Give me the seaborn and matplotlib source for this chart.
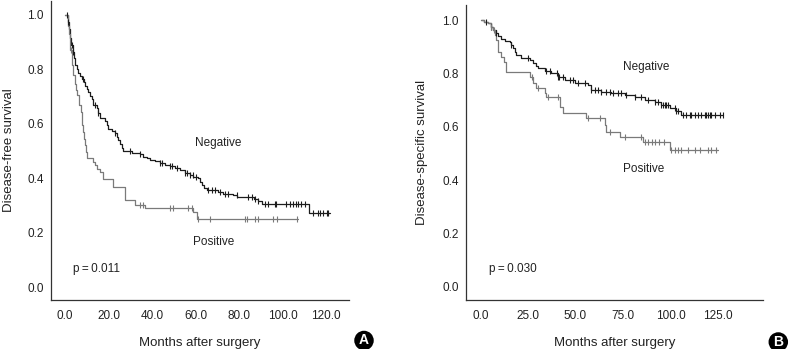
import numpy as np
import pandas as pd
import matplotlib
matplotlib.use("Agg")
import matplotlib.pyplot as plt
from matplotlib.patches import Ellipse
import seaborn as sns

# ---------------- data ----------------
# Panel A: disease-free survival
a_neg_t = [0, 1.2, 1.8, 2.3, 2.9, 3.5, 4.0, 4.6, 5.3, 6.1, 7.0, 7.7, 8.5, 9.2, 10.0, 10.7,
           11.5, 12.3, 13.0, 14.6, 15.3, 16.1, 18.4, 19.2, 19.9, 21.5, 23.0, 23.8, 24.5,
           25.3, 26.1, 26.8, 30.7, 34.5, 36.0, 37.5, 39.1, 41.5, 43.7, 46.0, 48.3, 50.5,
           52.9, 55.0, 57.5, 59.0, 61.3, 62.0, 62.8, 64.0, 65.1, 70.5, 72.8, 77.4, 79.0,
           87.0, 88.5, 90.4, 112.3]
a_neg_s = [1.0, 0.975, 0.95, 0.915, 0.89, 0.864, 0.84, 0.815, 0.80, 0.785, 0.775, 0.765,
           0.752, 0.74, 0.728, 0.716, 0.704, 0.692, 0.668, 0.658, 0.64, 0.62, 0.61, 0.596,
           0.583, 0.574, 0.565, 0.552, 0.54, 0.525, 0.51, 0.502, 0.494, 0.488, 0.48, 0.474,
           0.468, 0.462, 0.456, 0.45, 0.444, 0.437, 0.43, 0.42, 0.412, 0.406, 0.40, 0.388,
           0.376, 0.364, 0.356, 0.35, 0.344, 0.338, 0.33, 0.325, 0.318, 0.307, 0.273]
a_neg_end = 121.8
a_neg_cens = [0.8, 1.5, 3.1, 3.8, 8.4, 13.8, 15.3, 23.0, 29.9, 34.5, 43.7, 44.4, 48.3, 49.0,
              51.3, 55.2, 56.0, 57.5, 58.7, 60.2, 65.9, 67.4, 68.9, 71.3, 73.5, 75.1, 78.9,
              84.2, 85.8, 87.3, 88.8, 91.9, 93.4, 96.5, 97.2, 101.8, 103.4, 104.9, 106.4,
              107.2, 108.7, 110.3, 114.1, 116.5, 117.2, 118.7, 120.3, 121.0]

a_pos_t = [0, 1.5, 2.0, 2.5, 3.1, 3.8, 4.6, 5.2, 5.7, 6.2, 6.6, 7.2, 7.7, 8.0, 8.4, 8.8,
           9.2, 9.7, 10.3, 13.0, 13.8, 14.6, 16.0, 17.6, 22.2, 27.7, 32.2, 36.8, 59.0, 60.5]
a_pos_s = [1.0, 0.96, 0.93, 0.87, 0.815, 0.778, 0.748, 0.725, 0.705, 0.685, 0.668, 0.645,
           0.62, 0.595, 0.57, 0.545, 0.522, 0.497, 0.473, 0.461, 0.449, 0.436, 0.424,
           0.397, 0.37, 0.32, 0.303, 0.29, 0.277, 0.25]
a_pos_end = 107.0
a_pos_cens = [2.6, 34.5, 36.0, 48.3, 49.8, 56.7, 58.5, 61.3, 66.7, 82.8, 83.6, 87.4, 88.9,
              95.8, 97.4, 106.6]

# Panel B: disease-specific survival
b_neg_t = [0, 2.0, 3.9, 5.3, 6.6, 8.0, 9.2, 11.0, 12.7, 15.4, 16.2, 17.1, 18.0, 18.9,
           21.5, 25.9, 27.6, 29.0, 30.3, 33.8, 37.3, 40.8, 44.3, 49.6, 56.6, 58.3, 63.6,
           68.9, 75.9, 81.1, 86.4, 91.7, 95.2, 99.6, 103.1, 105.7]
b_neg_s = [1.0, 0.995, 0.989, 0.975, 0.964, 0.952, 0.94, 0.93, 0.923, 0.918, 0.907, 0.895,
           0.882, 0.87, 0.858, 0.85, 0.839, 0.83, 0.82, 0.81, 0.801, 0.789, 0.776, 0.764,
           0.757, 0.739, 0.733, 0.726, 0.72, 0.714, 0.701, 0.692, 0.682, 0.67, 0.658, 0.645]
b_neg_end = 127.6
b_neg_cens = [3.1, 5.7, 8.3, 16.2, 25.0, 34.6, 36.4, 40.3, 40.8, 41.2, 43.4, 46.9, 48.7,
              51.3, 54.8, 58.3, 60.1, 61.8, 63.6, 66.2, 68.0, 69.7, 72.4, 74.1, 76.8, 81.1,
              84.6, 88.2, 91.7, 93.4, 95.2, 96.2, 96.9, 97.8, 98.7, 102.2, 103.1, 104.0,
              106.6, 108.3, 110.1, 111.0, 112.7, 114.5, 116.2, 118.0, 118.9, 119.7, 120.6,
              121.5, 123.2, 125.9, 127.6]

b_pos_t = [0, 2.0, 3.9, 5.3, 6.6, 7.5, 8.3, 9.2, 11.0, 12.4, 13.6, 25.9, 27.6, 29.4, 33.8,
           34.6, 41.7, 43.4, 55.7, 65.4, 66.2, 73.2, 85.5, 99.6]
b_pos_s = [1.0, 0.995, 0.989, 0.975, 0.964, 0.945, 0.927, 0.883, 0.864, 0.845, 0.808,
           0.789, 0.764, 0.745, 0.726, 0.714, 0.676, 0.651, 0.632, 0.607, 0.582, 0.563,
           0.545, 0.513]
b_pos_end = 125.0
b_pos_cens = [5.7, 7.0, 27.0, 30.0, 35.5, 41.0, 56.5, 63.0, 68.0, 76.0, 84.6, 86.4, 88.2,
              90.0, 92.0, 94.0, 96.5, 100.4, 102.2, 104.0, 105.7, 109.2, 112.7, 115.4,
              119.7, 121.5, 124.1]

y_ticks = [0.0, 0.2, 0.4, 0.6, 0.8, 1.0]
a_x_ticks = [0, 20, 40, 60, 80, 100, 120]
b_x_ticks = [0, 25, 50, 75, 100, 125]

# ---------------- styling ----------------
sns.set_style("white")
plt.rcParams["font.family"] = ["Liberation Sans", "DejaVu Sans"]

NEG_COLOR = "#1c1c1c"
POS_COLOR = "#7a7a7a"
SPINE = "#333333"
TEXT = "#222222"

fig = plt.figure(figsize=(7.9, 3.49), dpi=100)
W, H = 790.0, 349.0
axA = fig.add_axes([50.7 / W, 1 - 300 / H, (349.3 - 50.7) / W, 299 / H])
axB = fig.add_axes([465.7 / W, 1 - 300 / H, (763.3 - 465.7) / W, 295 / H])


def draw_curve(ax, times, surv, end, cens, color):
    t = list(times) + [end]
    s = list(surv) + [surv[-1]]
    df = pd.DataFrame({"t": t, "s": s})
    sns.lineplot(data=df, x="t", y="s", ax=ax, drawstyle="steps-post", color=color,
                 lw=0.9, estimator=None, sort=False)
    idx = np.searchsorted(np.asarray(times), np.asarray(cens), side="right") - 1
    cy = np.asarray(surv)[idx]
    cdf = pd.DataFrame({"t": cens, "s": cy})
    sns.scatterplot(data=cdf, x="t", y="s", ax=ax, marker="|", s=16, color=color,
                    linewidth=0.8, zorder=3)


def style_axis(ax, xlim, ylim, xticks, xlabel, ylabel, ylabelpad):
    ax.set_xlim(*xlim)
    ax.set_ylim(*ylim)
    ax.set_xticks(xticks)
    ax.set_xticklabels([f"{v:.1f}" for v in xticks])
    ax.set_yticks(y_ticks)
    ax.set_yticklabels([f"{v:.1f}" for v in y_ticks])
    for side in ["top", "right"]:
        ax.spines[side].set_visible(False)
    for side in ["left", "bottom"]:
        ax.spines[side].set_color(SPINE)
        ax.spines[side].set_linewidth(0.9)
    ax.tick_params(axis="both", direction="in", length=3, width=0.7, color="#9a9a9a",
                   labelsize=8.5, labelcolor=TEXT)
    ax.tick_params(axis="y", pad=5)
    ax.tick_params(axis="x", pad=7)
    ax.set_xlabel(xlabel, fontsize=9.5, color=TEXT, labelpad=11)
    ax.set_ylabel(ylabel, fontsize=9.5, color=TEXT, labelpad=ylabelpad)
    ax.set_facecolor("white")


# Panel A
draw_curve(axA, a_neg_t, a_neg_s, a_neg_end, a_neg_cens, NEG_COLOR)
draw_curve(axA, a_pos_t, a_pos_s, a_pos_end, a_pos_cens, POS_COLOR)
style_axis(axA, (-6.6, 130.7), (-0.0465, 1.051), a_x_ticks, "Months after surgery",
           "Disease-free survival", 9)
axA.text(59.8, 0.53, "Negative", fontsize=8.5, color=TEXT, ha="left", va="center")
axA.text(58.9, 0.168, "Positive", fontsize=8.5, color=TEXT, ha="left", va="center")
axA.text(3.7, 0.067, "p\u2009=\u20090.011", fontsize=8.5, color=TEXT, ha="left", va="center")

# Panel B
draw_curve(axB, b_neg_t, b_neg_s, b_neg_end, b_neg_cens, NEG_COLOR)
draw_curve(axB, b_pos_t, b_pos_s, b_pos_end, b_pos_cens, POS_COLOR)
style_axis(axB, (-7.8, 148.8), (-0.05, 1.058), b_x_ticks, "Months after surgery",
           "Disease-specific survival", 10.5)
axB.text(74.8, 0.826, "Negative", fontsize=8.5, color=TEXT, ha="left", va="center")
axB.text(74.8, 0.442, "Positive", fontsize=8.5, color=TEXT, ha="left", va="center")
axB.text(4.5, 0.068, "p\u2009=\u20090.030", fontsize=8.5, color=TEXT, ha="left", va="center")

# Panel badges
for cx, cy, letter in [(364.0, 340.5, "A"), (778.3, 342.0, "B")]:
    e = Ellipse((cx / W, 1 - cy / H), 19.5 / W, 19.5 / H, transform=fig.transFigure,
                facecolor="black", edgecolor="none")
    fig.add_artist(e)
    fig.text(cx / W, 1 - cy / H, letter, color="white", fontsize=10, fontweight="bold",
             ha="center", va="center")

fig.savefig("out.png", dpi=100, facecolor="white")
